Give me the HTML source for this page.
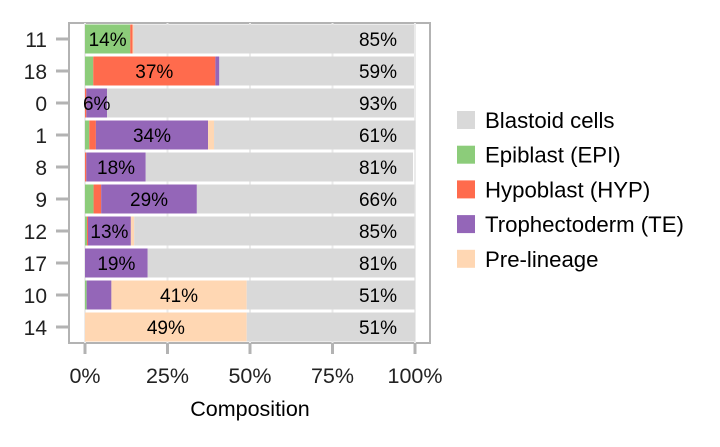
<!DOCTYPE html>
<html><head><meta charset="utf-8"><style>
body{margin:0;background:#fff;font-family:"Liberation Sans",sans-serif}
</style></head><body>
<svg id="c" width="720" height="442" xmlns="http://www.w3.org/2000/svg" font-family="Liberation Sans, sans-serif"></svg>
<script>
const categories=["11","18","0","1","8","9","12","17","10","14"];
const epi=[13.7,2.5,0,1.3,0,2.6,0.6,0,0.5,0];
const hyp=[0.7,37,0.4,2,0.4,2.3,0.3,0,0,0];
const te=[0,1.2,6.3,34,18,29,13,19,7.5,0];
const pre=[0.3,0,0,1.8,0,0,1,0,41,49];
const blast=[85,59,93,61,81,66,85,81,51,51];
const mainLabels=["14%","37%","6%","34%","18%","29%","13%","19%","41%","49%"];
const mainSeries=[0,1,2,2,2,2,2,2,3,3];
const blastLabels=["85%","59%","93%","61%","81%","66%","85%","81%","51%","51%"];
const xTicks=[0,25,50,75,100];
const seriesNames=["Blastoid cells","Epiblast (EPI)","Hypoblast (HYP)","Trophectoderm (TE)","Pre-lineage"];
const colors={epi:"#8ccc7a",hyp:"#ff6b4d",te:"#9466b8",pre:"#ffd7b3",blast:"#d9d9d9"};
const svg=document.getElementById('c');const NS="http://www.w3.org/2000/svg";
function el(t,a,p){const e=document.createElementNS(NS,t);for(const k in a)e.setAttribute(k,a[k]);(p||svg).appendChild(e);return e;}
const x0=85,x1=415,yTop=23,yBot=343;
const xs=v=>x0+(x1-x0)*v/100;
const band=(yBot-yTop)/categories.length;
const yc=i=>yTop+band*(i+0.5);
let p=el('rect',{x:69,y:yTop,width:361,height:yBot-yTop,fill:'#fff',stroke:'#b3b3b3','stroke-width':2});

xTicks.forEach(t=>{let g=el('line',{x1:xs(t),x2:xs(t),y1:yTop,y2:yBot,stroke:'#ebebeb','stroke-width':2});
});
const order=[["epi",epi],["hyp",hyp],["te",te],["pre",pre],["blast",blast]];
categories.forEach((c,i)=>{
 let cum=0;const h=band-3,y=yc(i)-h/2;const starts=[];
 order.forEach(([k,arr])=>{const v=arr[i];starts.push([cum,v]);if(v>0){let r=el('rect',{x:xs(cum),y:y,width:xs(cum+v)-xs(cum),height:h,fill:colors[k]});
 }cum+=v;});
 const [s,v]=starts[mainSeries[i]];
 let t=el('text',{x:xs(s+v/2),y:yc(i)+7,'text-anchor':'middle','font-size':19,fill:'#000'});t.textContent=mainLabels[i];
 
 let t2=el('text',{x:378,y:yc(i)+7,'text-anchor':'middle','font-size':19,fill:'#000'});t2.textContent=blastLabels[i];
 
 let tk=el('line',{x1:56,x2:68,y1:yc(i),y2:yc(i),stroke:'#b3b3b3','stroke-width':3});
 
 let yl=el('text',{x:47,y:yc(i)+8,'text-anchor':'end','font-size':21,fill:'#222'});yl.textContent=c;
 
});
xTicks.forEach(t=>{let tk=el('line',{x1:xs(t),x2:xs(t),y1:yBot+1,y2:yBot+11,stroke:'#b3b3b3','stroke-width':3});

let l=el('text',{x:xs(t),y:383,'text-anchor':'middle','font-size':21.5,fill:'#222'});l.textContent=t+'%';
});
let xt=el('text',{x:250,y:416,'text-anchor':'middle','font-size':21.5,fill:'#000'});xt.textContent='Composition';

const legCols=[colors.blast,colors.epi,colors.hyp,colors.te,colors.pre];
seriesNames.forEach((n,j)=>{const y=120+j*34.7;
 let r=el('rect',{x:457,y:y-9,width:18,height:18,fill:legCols[j]});
 
 let t=el('text',{x:485,y:y+8,'font-size':22.2,fill:'#000'});t.textContent=n;
 });
</script>
</body></html>
